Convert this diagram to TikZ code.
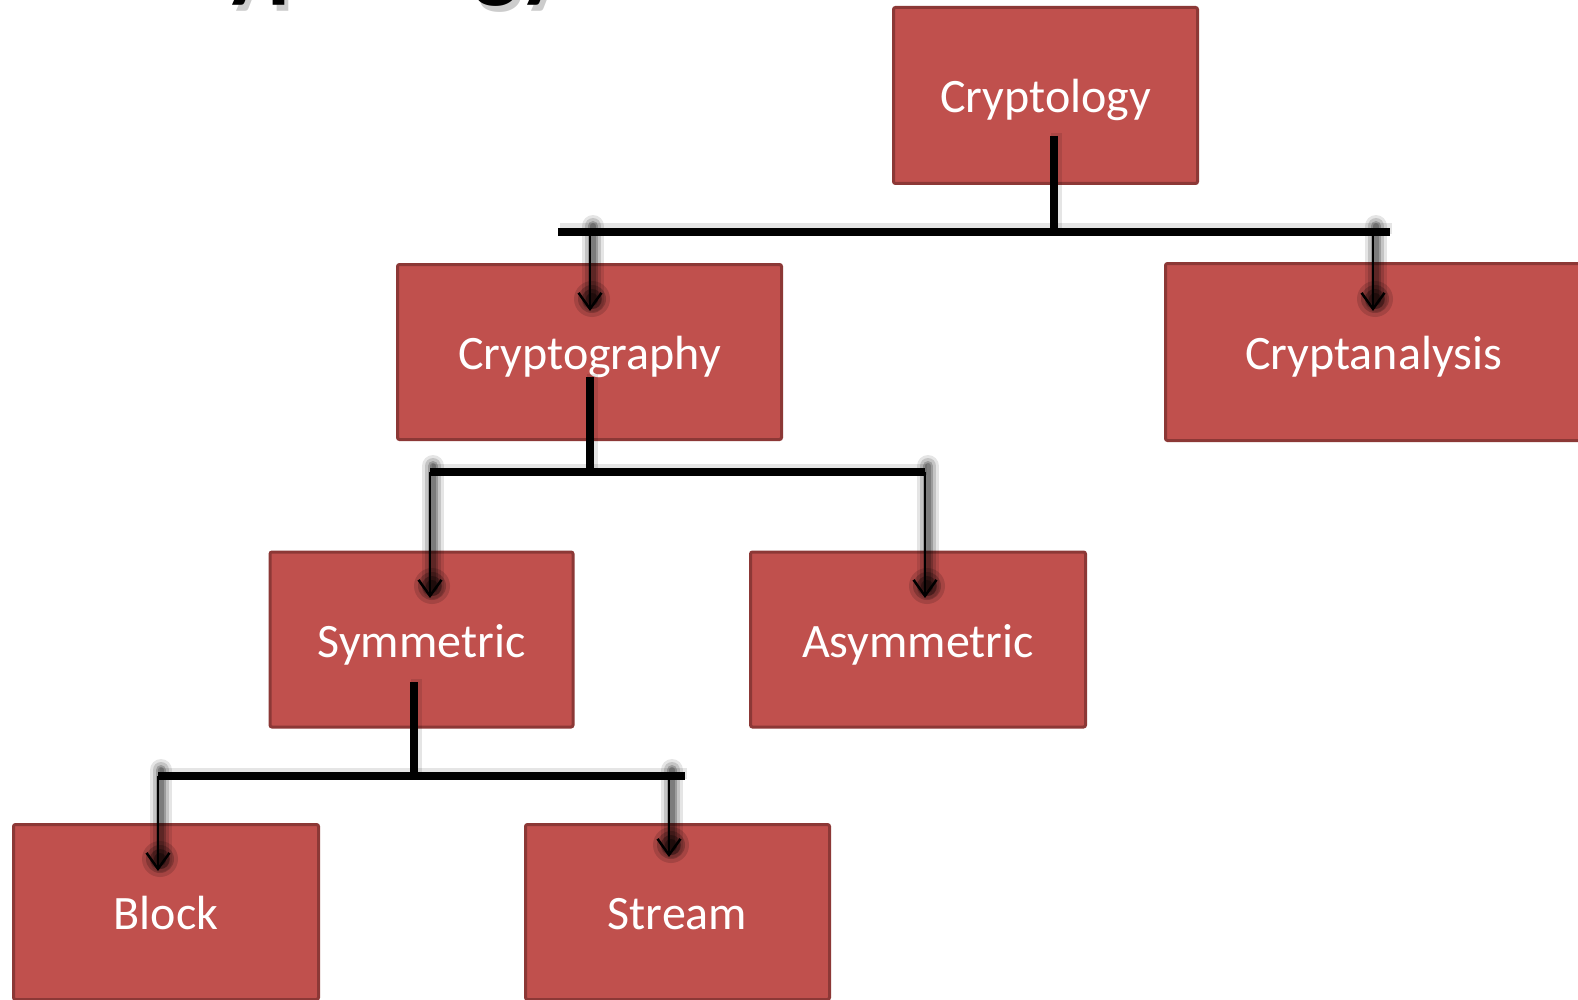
\documentclass[tikz,border=0pt]{standalone}
\usepackage{fontspec}
\setmainfont{Carlito}
\usetikzlibrary{arrows.meta}
\definecolor{boxred}{HTML}{C0504D}
\definecolor{boxedge}{HTML}{8C3836}
\newcommand\shadowarrow[2]{%
  \foreach \w/\o in {22/0.10,16/0.14,10/0.2,6/0.2}{%
    \draw[line width=\w pt, opacity=\o, line cap=round] ([shift={(3,-6)}]#1) -- ([shift={(3,-10)}]#2);}
  \foreach \r/\o in {18/0.14,14/0.2,10/0.28,6/0.3}{%
    \fill[opacity=\o] ([shift={(2,-12)}]#2) circle (\r pt);}
  \draw[arr] (#1) -- (#2);
}
\begin{document}
\begin{tikzpicture}[x=1pt,y=-1pt,
  box/.style={rectangle, fill=boxred, draw=boxedge, line width=3pt, rounded corners=2pt,
    text=white, font=\fontsize{48}{58}\selectfont, inner sep=0pt,
    text height=35pt, text depth=0pt},
  bar/.style={line width=7.5pt, black},
  barshadow/.style={line width=11pt, black, opacity=0.10},
  arr/.style={line width=2.5pt, black, -{Straight Barb[length=16pt,width=23pt,line width=2.5pt]}},
  titletext/.style={anchor=base west, font=\fontsize{94}{104}\selectfont\bfseries}
]
\clip (0,0) rectangle (1578,1000);
\fill[white] (0,0) rectangle (1578,1000);

% cut-off title
\node[titletext, text=black, opacity=0.2] (titleshadow) at (-80,-3) {Basic Cryptology Classification};
\node[titletext, text=black] (title) at (-84,-9) {Basic Cryptology Classification};

% boxes
\node[box, minimum width=304pt, minimum height=176pt] (cryptology) at (1045.5,95.5) {Cryptology};
\node[box, minimum width=384pt, minimum height=175pt] (cryptography) at (589.5,352) {Cryptography};
\node[box, minimum width=416pt, minimum height=177pt] (cryptanalysis) at (1373.5,352) {Cryptanalysis};
\node[box, minimum width=303pt, minimum height=175pt] (symmetric) at (421.5,639.5) {Symmetric};
\node[box, minimum width=335pt, minimum height=175pt] (asymmetric) at (918,639.5) {Asymmetric};
\node[box, minimum width=305pt, minimum height=175pt] (block) at (166,912) {Block};
\node[box, minimum width=304pt, minimum height=175pt] (stream) at (677.5,912) {Stream};

% junction coordinates
\coordinate (s1) at (1054,136);
\coordinate (b1l) at (558,232);
\coordinate (b1r) at (1390,232);
\coordinate (a1) at (590,232);  \coordinate (t1) at (590,311);
\coordinate (a2) at (1373,232); \coordinate (t2) at (1373,311);

\coordinate (s2) at (590,377);
\coordinate (b2l) at (430,472);
\coordinate (b2r) at (925,472);
\coordinate (t3) at (430,598);
\coordinate (t4) at (925,598);

\coordinate (s3) at (414,682);
\coordinate (b3l) at (158,776);
\coordinate (b3r) at (685,776);
\coordinate (a5) at (158,776); \coordinate (t5) at (158,871);
\coordinate (a6) at (669,776); \coordinate (t6) at (669,857);

% arrows with soft shadows
\shadowarrow{a1}{t1}
\shadowarrow{a2}{t2}
\shadowarrow{b2l}{t3}
\shadowarrow{b2r}{t4}
\shadowarrow{a5}{t5}
\shadowarrow{a6}{t6}

% bar shadows
\draw[barshadow] ([shift={(2,-3)}]s1) -- ([shift={(2,-3)}]s1 |- b1l);
\draw[barshadow] ([shift={(2,-3)}]b1l) -- ([shift={(2,-3)}]b1r);
\draw[barshadow] ([shift={(2,-3)}]s2) -- ([shift={(2,-3)}]s2 |- b2l);
\draw[barshadow] ([shift={(2,-3)}]b2l) -- ([shift={(2,-3)}]b2r);
\draw[barshadow] ([shift={(2,-3)}]s3) -- ([shift={(2,-3)}]s3 |- b3l);
\draw[barshadow] ([shift={(2,-3)}]b3l) -- ([shift={(2,-3)}]b3r);

% bars
\draw[bar] (s1) -- (s1 |- b1l);
\draw[bar] (b1l) -- (b1r);
\draw[bar] (s2) -- (s2 |- b2l);
\draw[bar] (b2l) -- (b2r);
\draw[bar] (s3) -- (s3 |- b3l);
\draw[bar] (b3l) -- (b3r);
\end{tikzpicture}
\end{document}
